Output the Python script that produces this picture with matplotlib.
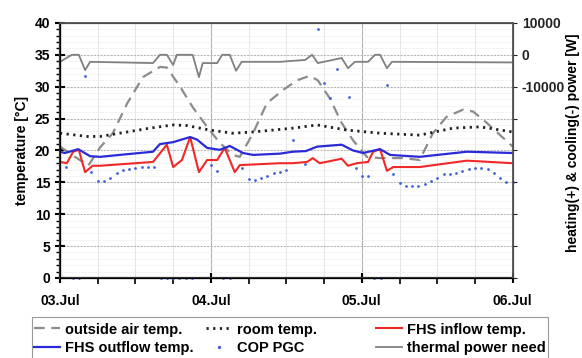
import numpy as np
import matplotlib
matplotlib.use('Agg')
import matplotlib.pyplot as plt
from matplotlib.patches import Rectangle
from matplotlib.ticker import MultipleLocator, FixedLocator, FixedFormatter

plt.rcParams['font.family'] = ['Liberation Sans', 'DejaVu Sans']
plt.rcParams['font.weight'] = 'bold'

# hours since 03.Jul 00:00
day_labels = ['03.Jul', '04.Jul', '05.Jul', '06.Jul']

# outside air temperature
air_h = [0, 4.5, 6.4, 8.4, 10.7, 13.2, 15.9, 17.0, 19.1, 21.1, 23.4, 25.4, 27.5, 28.6,
         30.7, 32.9, 35.5, 37.7, 39.7, 41.0, 42.9, 44.8, 46.6, 48.8, 50.9, 54.5, 57.2,
         59.3, 61.5, 64.1, 65.7, 67.9, 70.0, 72]
air_t = [20.6, 17.6, 20.5, 22.7, 27.4, 31.5, 33.1, 33.0, 30.0, 26.8, 23.7, 21.2, 19.3, 19.0,
         22.7, 27.4, 29.5, 31.0, 31.7, 31.0, 28.2, 24.3, 21.6, 19.0, 18.8, 18.8, 18.5,
         22.7, 25.3, 26.4, 26.1, 24.3, 22.4, 20.6]

# room temperature
room_h = [0, 4.3, 6.4, 10.7, 14.3, 18.0, 20.2, 23.8, 27.5, 30.7, 37.1, 40.9, 45.6, 50.9,
          57.2, 62.5, 66.8, 72]
room_t = [22.7, 22.2, 22.2, 22.9, 23.5, 24.0, 23.9, 23.2, 22.7, 22.9, 23.5, 24.0, 23.2, 22.7,
          22.4, 23.5, 23.7, 22.9]

# FHS inflow temperature
in_h = [0, 1.1, 2.1, 3.0, 4.0, 5.2, 6.4, 14.8, 17.0, 18.0, 19.4, 20.7, 22.1, 23.4, 25.0,
        26.2, 27.8, 28.6, 35.0, 37.0, 39.3, 40.2, 41.3, 44.8, 45.8, 47.2, 49.0, 49.8, 50.9,
        52.0, 53.0, 57.2, 64.7, 72]
in_t = [18.2, 18.0, 19.8, 20.1, 16.6, 17.6, 17.6, 18.2, 20.9, 17.4, 18.5, 22.1, 16.6, 18.5, 18.5,
        20.4, 16.6, 17.7, 18.0, 18.0, 18.2, 18.8, 18.0, 18.7, 17.6, 18.0, 18.2, 19.8, 20.2,
        16.8, 17.4, 17.4, 18.4, 18.0]

# FHS outflow temperature
out_h = [0, 0.8, 2.9, 4.8, 6.4, 9.5, 14.8, 15.9, 18.0, 20.7, 21.8, 23.4, 25.4, 27.0, 29.1,
         30.7, 35.0, 37.0, 39.1, 40.9, 44.8, 46.6, 48.2, 50.9, 52.5, 57.2, 64.7, 72]
out_t = [19.8, 19.6, 20.2, 19.1, 19.0, 19.3, 19.8, 21.0, 21.3, 22.1, 21.7, 20.4, 20.1, 20.7, 19.6,
         19.3, 19.5, 19.8, 19.9, 20.6, 20.9, 20.0, 19.6, 20.2, 19.3, 19.0, 19.8, 19.6]

# COP of the PGC, hourly (nan = no value)
nan = np.nan
cop = [nan, 17.4, 0, 0, 31.7, 16.6, 15.2, 15.2, 15.7, 16.5, 16.9, 17.1, 17.3, 17.4, 17.4, 17.4,
       0, 0, 0, 0, 0, 0, nan, nan, 17.7, 16.8, 0, 0, nan, 17.3, 15.5, 15.4, 15.7, 16.0,
       16.5, 16.6, 16.9, 21.7, nan, 17.8, nan, 39.0, 30.6, 28.2, 32.8, nan, 28.4, 17.3,
       16.0, 16.0, 0, 0, 30.3, 16.3, 14.9, 14.4, 14.4, 14.4, 14.7, 15.2, 15.7, 16.3, 16.3,
       16.5, 16.8, 17.1, 17.3, 17.3, 17.1, 16.5, 15.7, 15.1, 15.1]
cop_h = np.arange(len(cop))

# thermal power need [W]
pow_h = [0, 1.9, 3.0, 4.0, 4.8, 14.8, 15.9, 17.0, 18.0, 18.6, 21.1, 22.1, 22.7, 25.0, 25.8,
         27.0, 28.0, 28.9, 35.0, 39.0, 40.1, 41.0, 44.8, 45.8, 46.9, 49.0, 50.1, 50.9, 52.0,
         52.8, 72]
pow_w = [-2200, 0, 0, -4800, -2200, -2600, 0, 0, -3200, 0, 0, -7000, -2600, -2600, 0,
         0, -5000, -2200, -2200, -1600, 0, -2600, -1000, -4200, -2200, -2200, 0, 0, -4200,
         -2200, -2400]

fig = plt.figure(figsize=(5.82, 3.58), dpi=100)
ax = fig.add_axes([0.103, 0.2235, 0.778, 0.7125])
ax2 = ax.twinx()

l_air, = ax.plot(air_h, air_t, color='#8c8c8c', lw=1.6, dashes=(4.8, 3.0), label='outside air temp.')
l_room, = ax.plot(room_h, room_t, color='#202020', lw=2.0, dashes=(0.8, 1.6), label='room temp.')
l_in, = ax.plot(in_h, in_t, color='#f02828', lw=1.5, label='FHS inflow temp.')
l_out, = ax.plot(out_h, out_t, color='#2a2ad8', lw=1.6, label='FHS outflow temp.')
l_cop, = ax.plot(cop_h, cop, ls='none', marker='o', ms=2.0, color='#4060d8', mew=0,
                 label='COP PGC', clip_on=False)
l_pow, = ax2.plot(pow_h, pow_w, color='#808080', lw=1.3, label='thermal power need')

ax.set_xlim(0, 72)
ax.set_ylim(0, 40)
ax2.set_ylim(-70000, 10000)

ax.xaxis.set_major_locator(FixedLocator([0, 24, 48, 72]))
ax.xaxis.set_major_formatter(FixedFormatter(day_labels))
ax.xaxis.set_minor_locator(MultipleLocator(6))
ax.yaxis.set_major_locator(MultipleLocator(5))
ax.yaxis.set_minor_locator(MultipleLocator(1))

ax2.yaxis.set_major_locator(MultipleLocator(10000))
ax2.yaxis.set_major_formatter(
    plt.FuncFormatter(lambda v, p: '%d' % v if v >= -10000 else ''))

ax.tick_params(axis='x', which='major', direction='inout', length=7, width=1.5,
               labelsize=10, pad=8)
ax.tick_params(axis='x', which='minor', direction='out', length=4, width=1.2)
ax.tick_params(axis='y', which='major', direction='inout', length=7, width=1.5, labelsize=10)
ax.tick_params(axis='y', which='minor', direction='out', length=3, width=1.0)
ax2.tick_params(axis='y', which='major', direction='out', length=3, width=0.8,
                labelsize=10, colors='#222222')

for s in ['left', 'bottom']:
    ax.spines[s].set_linewidth(1.6)
    ax.spines[s].set_color('#333333')
for s in ['top', 'right']:
    ax2.spines[s].set_linewidth(1.3)
    ax2.spines[s].set_color('#555555')

ax.grid(True, which='major', axis='x', color='#b0b0b0', lw=0.8)
ax.grid(True, which='major', axis='y', color='#b8b8b8', lw=0.8, ls=(0, (2, 1)))
ax.grid(True, which='minor', axis='x', color='#e2e2e2', lw=0.6)
ax.grid(True, which='minor', axis='y', color='#f0f0f0', lw=0.5)
ax.set_axisbelow(True)

ax.set_ylabel('temperature [°C]', fontsize=10, fontweight='bold', labelpad=4)
ax2.set_ylabel('heating(+) & cooling(-) power [W]', fontsize=10, fontweight='bold')
ax2.yaxis.set_label_coords(1.117, 0.53)

# legend: three columns placed by hand, one common frame
columns = [[l_air, l_out], [l_room, l_cop], [l_in, l_pow]]
col_x = [34 / 582, 206 / 582, 376 / 582]
for hs, x0 in zip(columns, col_x):
    fig.legend(handles=hs, labels=[h.get_label() for h in hs], loc='upper left',
               bbox_to_anchor=(x0, 0.099), fontsize=10.5, frameon=False,
               handlelength=1.8, handletextpad=0.35, borderpad=0, borderaxespad=0,
               labelspacing=0.3, markerscale=1.2)
fig.patches.append(Rectangle((32 / 582, -0.05), 516 / 582, 41 / 358 + 0.05,
                             transform=fig.transFigure, fill=False,
                             edgecolor='#999999', lw=0.8))

fig.savefig('out.png', dpi=100)
